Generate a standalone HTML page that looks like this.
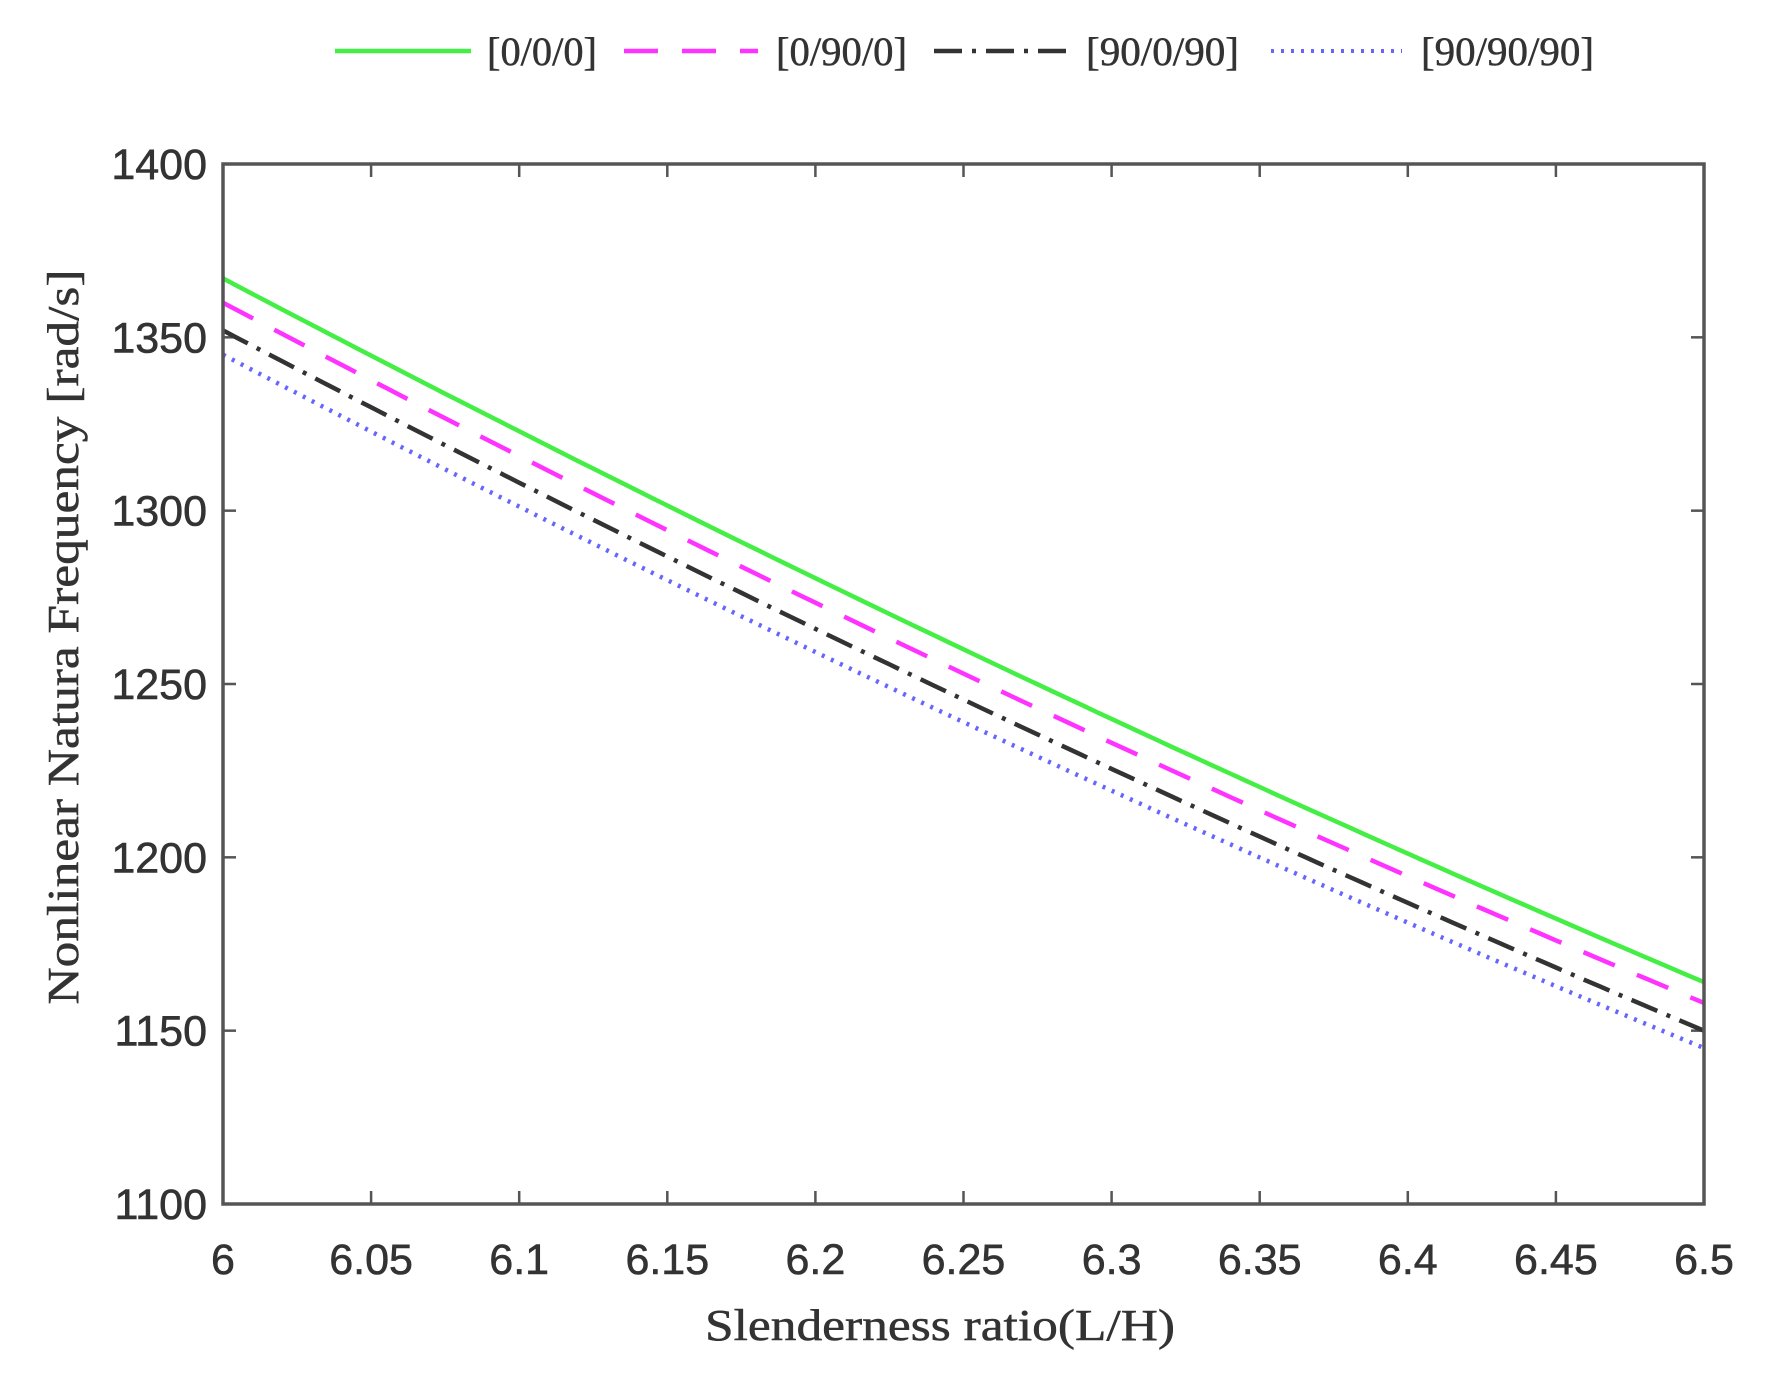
<!DOCTYPE html>
<html><head><meta charset="utf-8"><style>
html,body{margin:0;padding:0;background:#fff;}
svg{display:block;}
.tl{font-family:"Liberation Sans",sans-serif;font-size:43px;fill:#333;stroke:#333;stroke-width:0.6px;}
.sr{font-family:"Liberation Serif",serif;fill:#333;stroke:#333;stroke-width:0.5px;}
</style></head><body>
<svg id="s" width="1768" height="1382" viewBox="0 0 1768 1382" xmlns="http://www.w3.org/2000/svg">
<rect width="1768" height="1382" fill="#fff"/>
<g id="ticks" stroke="#555" stroke-width="2.5"></g>
<g id="series" fill="none" stroke-width="4.5"></g>
<rect x="223" y="164" width="1481" height="1040" fill="none" stroke="#555" stroke-width="3.5"/>
<g id="labels"></g>
<text class="sr" x="940" y="1340" font-size="44" text-anchor="middle" textLength="470" lengthAdjust="spacingAndGlyphs">Slenderness ratio(L/H)</text>
<text class="sr" font-size="44" transform="translate(78,637) rotate(-90)" text-anchor="middle" textLength="735" lengthAdjust="spacingAndGlyphs">Nonlinear Natura Frequency  [rad/s]</text>
<!-- legend -->
<line x1="335" y1="51" x2="471" y2="51" stroke="#44ee44" stroke-width="4.5"/>
<text class="sr" x="487" y="65" font-size="40" textLength="110" lengthAdjust="spacingAndGlyphs">[0/0/0]</text>
<line x1="624" y1="51" x2="758" y2="51" stroke="#ff33ff" stroke-width="4.5" stroke-dasharray="34,24"/>
<text class="sr" x="776" y="65" font-size="40" textLength="131" lengthAdjust="spacingAndGlyphs">[0/90/0]</text>
<line x1="934" y1="51" x2="1072" y2="51" stroke="#333" stroke-width="4.5" stroke-dasharray="28,10,4,10"/>
<text class="sr" x="1086" y="65" font-size="40" textLength="153" lengthAdjust="spacingAndGlyphs">[90/0/90]</text>
<line x1="1271" y1="51" x2="1402" y2="51" stroke="#6666ff" stroke-width="4" stroke-dasharray="3,7"/>
<text class="sr" x="1421" y="65" font-size="40" textLength="173" lengthAdjust="spacingAndGlyphs">[90/90/90]</text>
</svg>
<script>
(function(){
var NS="http://www.w3.org/2000/svg";
function X(t){return 223+t*1481;}
function Y(v){return 1204-(v-1100)*1040/300;}
var tk=document.getElementById("ticks"),lb=document.getElementById("labels");
function el(p,n,a,txt){var e=document.createElementNS(NS,n);for(var k in a)e.setAttribute(k,a[k]);if(txt)e.textContent=txt;p.appendChild(e);return e;}
var xl=["6","6.05","6.1","6.15","6.2","6.25","6.3","6.35","6.4","6.45","6.5"];
for(var i=0;i<=10;i++){var x=X(i/10);
 el(tk,"line",{x1:x,y1:1204,x2:x,y2:1191});
 el(tk,"line",{x1:x,y1:164,x2:x,y2:177});
 el(lb,"text",{"class":"tl",x:x,y:1274,"text-anchor":"middle"},xl[i]);}
for(var v=1100;v<=1400;v+=50){var y=Y(v);
 el(tk,"line",{x1:223,y1:y,x2:236,y2:y});
 el(tk,"line",{x1:1704,y1:y,x2:1691,y2:y});
 el(lb,"text",{"class":"tl",x:207,y:y+15,"text-anchor":"end"},String(v));}
var S=[[1367,-225,22,"#44ee44",""],[1360,-226,24,"#ff33ff","34,24"],[1352,-224,22,"#333","28,10,4,10"],[1345,-224,24,"#6666ff","3,7"]];
var g=document.getElementById("series");
S.forEach(function(s){var pts=[];for(var j=0;j<=100;j++){var t=j/100;pts.push(X(t).toFixed(1)+","+Y(s[0]+s[1]*t+s[2]*t*t).toFixed(1));}
 var a={points:pts.join(" "),stroke:s[3]};if(s[4])a["stroke-dasharray"]=s[4];el(g,"polyline",a);});
})();
</script>
</body></html>
